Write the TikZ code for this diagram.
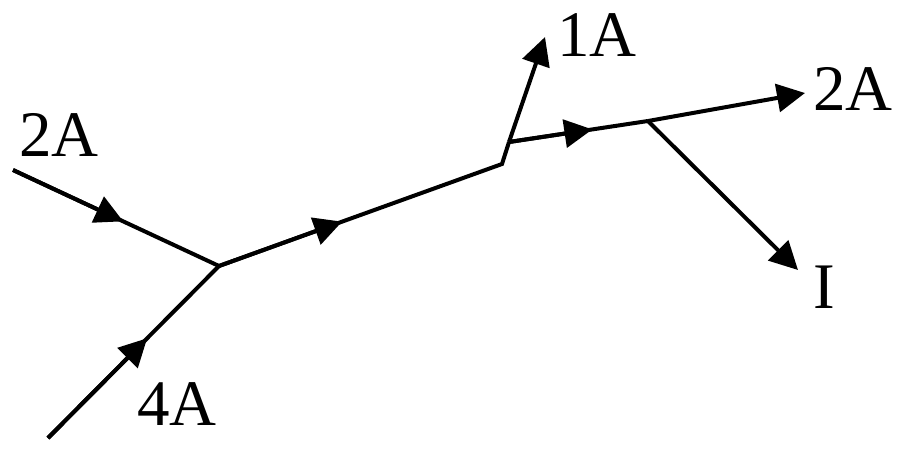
\documentclass[tikz,border=0pt]{standalone}
\usepackage{fontspec}
\setmainfont{Liberation Serif}
\usetikzlibrary{arrows.meta,calc}
\tikzset{
  wire/.style={line width=4pt, line join=miter, line cap=butt},
  tip/.style={-{Triangle[length=28pt,width=28pt]}},
  lbl/.style={inner sep=0pt, font=\fontsize{65}{72}\selectfont}
}
\begin{document}
\begin{tikzpicture}[x=1pt,y=-1pt]
\useasboundingbox (0,0) rectangle (900,448);
% points
\coordinate (inA) at (13,170);
\coordinate (inB) at (48,438);
\coordinate (j1) at (219,266);
\coordinate (k1) at (502,164);
\coordinate (k2) at (509,142);
\coordinate (j2) at (648,121);
\coordinate (o1) at (545,37);
\coordinate (o2) at (805,93);
\coordinate (o3) at (798,270);
% mid arrow positions
\coordinate (mA) at ($(inA)!0.535!(j1)$);
\coordinate (mB) at ($(inB)!0.58!(j1)$);
\coordinate (mC) at ($(j1)!0.435!(k1)$);
\coordinate (mD) at ($(k2)!0.60!(j2)$);
% wires
\draw[wire] (inA) -- (j1);
\draw[wire,tip] (inA) -- (mA);
\draw[wire] (inB) -- (j1);
\draw[wire,tip] (inB) -- (mB);
\draw[wire] (j1) -- (k1) -- (k2);
\draw[wire,tip] (j1) -- (mC);
\draw[wire,tip] (k2) -- (o1);
\draw[wire] (k2) -- (j2);
\draw[wire,tip] (k2) -- (mD);
\draw[wire,tip] (j2) -- (o2);
\draw[wire,tip] (j2) -- (o3);
% labels
\node[lbl] (l1) at (59,135) {2A};
\node[lbl] (l2) at (177,404) {4A};
\node[lbl] (l3) at (597,35) {1A};
\node[lbl] (l4) at (853,89) {2A};
\node[lbl] (l5) at (824,287) {I};
\end{tikzpicture}
\end{document}
